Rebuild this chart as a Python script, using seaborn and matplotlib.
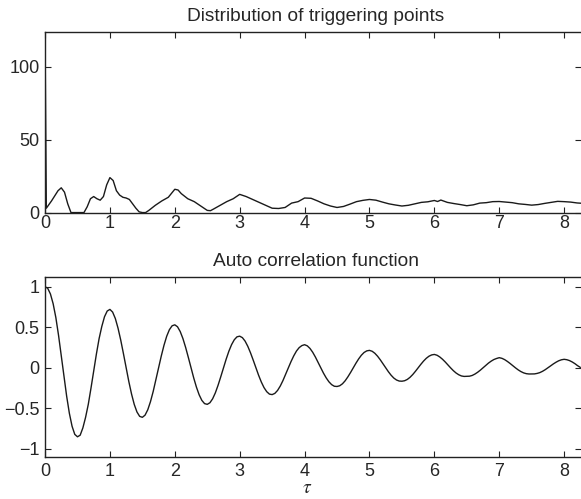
import numpy as np
import pandas as pd
import matplotlib
matplotlib.use("Agg")
import matplotlib.pyplot as plt
import seaborn as sns

# distribution of triggering points
tau_dist = [0.0, 0.02, 0.1, 0.2, 0.25, 0.3, 0.35, 0.4, 0.5, 0.6, 0.65, 0.7, 0.75, 0.8, 0.85,
            0.9, 0.95, 1.0, 1.05, 1.1, 1.15, 1.2, 1.25, 1.3, 1.35, 1.4, 1.45, 1.5, 1.55, 1.6,
            1.7, 1.8, 1.9, 2.0, 2.05, 2.1, 2.2, 2.3, 2.4, 2.5, 2.55, 2.6, 2.7, 2.8, 2.9, 3.0,
            3.1, 3.2, 3.3, 3.4, 3.5, 3.6, 3.7, 3.8, 3.9, 4.0, 4.1, 4.2, 4.3, 4.4, 4.5, 4.6,
            4.7, 4.8, 4.9, 5.0, 5.1, 5.2, 5.3, 5.4, 5.5, 5.6, 5.7, 5.8, 5.9, 6.0, 6.05, 6.1,
            6.2, 6.3, 6.4, 6.5, 6.6, 6.7, 6.8, 6.9, 7.0, 7.1, 7.2, 7.3, 7.4, 7.5, 7.6, 7.7,
            7.8, 7.9, 8.0, 8.1, 8.2, 8.3]
counts = [123, 3, 8, 15, 17, 14, 6, 0, 0, 0, 4, 9.5, 11, 9.5, 8.5,
          11, 19, 24, 22, 15, 12, 10.5, 10, 9, 6, 3, 0.5, 0, 0, 1.5,
          5, 8, 10.5, 16, 15.5, 13, 9.5, 7.5, 4.5, 1.5, 1.3, 2.5, 5, 7.5, 9.5, 12.5,
          11, 9, 7, 5, 3, 2.8, 3.5, 6.5, 7.5, 10, 9.8, 8, 6, 4.5, 3.5, 4.2,
          5.8, 7.5, 8.4, 9, 8.5, 7.2, 6, 5.2, 4.5, 5, 6, 7, 7.4, 8.3, 7.6, 8.6,
          7, 6.2, 5.5, 4.7, 5.3, 6.5, 6.8, 7.5, 7.6, 7.2, 6.8, 6, 5.6, 5.1, 5.5, 6.3,
          7, 7.7, 7.5, 7.2, 6.6, 6.3]

# auto correlation function, sampled every 1/24 (one row per unit of tau)
tau_acf = np.arange(199) / 24
acf = [1.00, 0.98, 0.91, 0.79, 0.62, 0.40, 0.15, -0.11, -0.35, -0.56, -0.72, -0.82,
       -0.85, -0.83, -0.74, -0.61, -0.45, -0.25, -0.04, 0.17, 0.36, 0.51, 0.63, 0.70,
       0.72, 0.687, 0.608, 0.489, 0.342, 0.175, 0.0, -0.170, -0.323, -0.451, -0.544, -0.598,
       -0.61, -0.583, -0.517, -0.417, -0.292, -0.149, 0.0, 0.146, 0.278, 0.389, 0.470, 0.518,
       0.53, 0.506, 0.447, 0.361, 0.252, 0.129, 0.0, -0.125, -0.238, -0.332, -0.401, -0.441,
       -0.45, -0.430, -0.381, -0.308, -0.215, -0.110, 0.0, 0.107, 0.205, 0.286, 0.346, 0.382,
       0.39, 0.372, 0.329, 0.265, 0.185, 0.095, 0.0, -0.092, -0.175, -0.244, -0.294, -0.324,
       -0.33, -0.315, -0.279, -0.225, -0.157, -0.080, 0.0, 0.078, 0.148, 0.207, 0.249, 0.274,
       0.285, 0.271, 0.239, 0.192, 0.133, 0.068, 0.0, -0.066, -0.124, -0.172, -0.207, -0.227,
       -0.23, -0.221, -0.197, -0.160, -0.112, -0.058, 0.0, 0.057, 0.110, 0.155, 0.189, 0.209,
       0.215, 0.204, 0.179, 0.143, 0.099, 0.050, 0.0, -0.048, -0.091, -0.126, -0.150, -0.163,
       -0.165, -0.159, -0.143, -0.117, -0.083, -0.043, 0.0, 0.043, 0.083, 0.117, 0.143, 0.159,
       0.165, 0.155, 0.134, 0.106, 0.073, 0.036, 0.0, -0.034, -0.063, -0.085, -0.100, -0.106,
       -0.105, -0.103, -0.094, -0.077, -0.055, -0.029, 0.0, 0.029, 0.058, 0.082, 0.102, 0.115,
       0.125, 0.117, 0.101, 0.079, 0.054, 0.027, 0.0, -0.025, -0.046, -0.062, -0.072, -0.076,
       -0.075, -0.075, -0.069, -0.059, -0.043, -0.023, 0.0, 0.024, 0.048, 0.069, 0.087, 0.099,
       0.105, 0.100, 0.089, 0.072, 0.051, 0.026, 0.005]

xticks = [0, 1, 2, 3, 4, 5, 6, 7, 8]
dist_yticks = [0, 50, 100]
acf_yticks = [-1, -0.5, 0, 0.5, 1]
acf_ylabels = ["\u22121", "\u22120.5", "0", "0.5", "1"]

sns.set_style("ticks")
plt.rcParams["font.family"] = ["Liberation Sans", "DejaVu Sans"]
plt.rcParams["mathtext.fontset"] = "stix"
plt.rcParams["xtick.direction"] = "in"
plt.rcParams["ytick.direction"] = "in"

fig = plt.figure(figsize=(5.81, 4.99), dpi=100)
ax1 = fig.add_axes([0.0775, 0.574, 0.9225, 0.362])
ax2 = fig.add_axes([0.0775, 0.084, 0.9225, 0.361])

sns.lineplot(x=tau_dist, y=counts, ax=ax1, color="#1a1a1a", linewidth=1.0)
sns.lineplot(x=tau_acf, y=acf, ax=ax2, color="#1a1a1a", linewidth=1.0)

for ax in (ax1, ax2):
    ax.set_xlim(0, 8.26)
    ax.set_xticks(xticks)
    ax.tick_params(axis="both", which="major", top=True, right=True, length=4,
                   width=0.8, labelsize=13, color="#222222")
    ax.tick_params(axis="y", pad=4)
    for side in ("left", "top", "bottom"):
        ax.spines[side].set_linewidth(1.0)
        ax.spines[side].set_color("#222222")
    ax.spines["right"].set_visible(False)

ax1.set_ylim(0, 124)
ax1.set_yticks(dist_yticks)
ax1.tick_params(axis="x", pad=2)
ax1.set_title("Distribution of triggering points", fontsize=13.8, x=0.505, pad=8)

ax2.set_ylim(-1.1, 1.12)
ax2.set_yticks(acf_yticks)
ax2.set_yticklabels(acf_ylabels)
ax2.tick_params(axis="x", pad=4)
ax2.set_title("Auto correlation function", fontsize=13.8, x=0.505, pad=8)
ax2.set_xlabel(r"$\tau$", fontsize=14, labelpad=0, x=0.49)

fig.savefig("out.png", dpi=100)
